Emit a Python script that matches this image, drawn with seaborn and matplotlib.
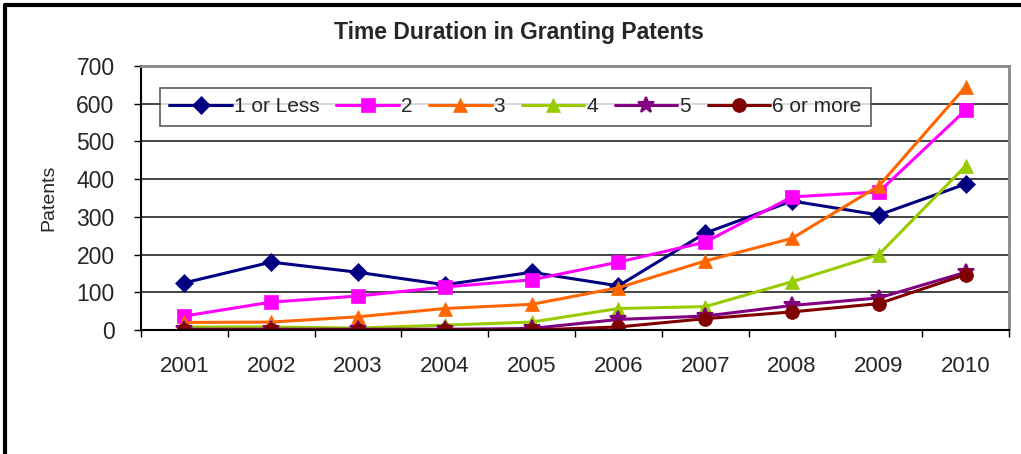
import matplotlib
matplotlib.use('Agg')
import matplotlib.pyplot as plt
import seaborn as sns
import pandas as pd
from matplotlib.ticker import FixedLocator

# data
years = [2001, 2002, 2003, 2004, 2005, 2006, 2007, 2008, 2009, 2010]
one_or_less = [125, 180, 153, 120, 153, 117, 257, 342, 305, 387]
two = [37, 74, 90, 114, 133, 180, 233, 353, 366, 583]
three = [20, 21, 35, 57, 68, 112, 183, 243, 382, 645]
four = [8, 8, 5, 13, 21, 57, 62, 128, 200, 435]
five = [2, 2, 2, 2, 4, 28, 37, 65, 85, 153]
six_or_more = [0, 0, 0, 0, 0, 8, 30, 48, 70, 147]
labels = ['1 or Less', '2', '3', '4', '5', '6 or more']

series = [one_or_less, two, three, four, five, six_or_more]
colors = ['#000080', '#FF00FF', '#FF6600', '#99CC00', '#800080', '#800000']
markers = ['D', 's', '^', '^', '*', 'o']
msizes = [9, 10, 10, 10, 12, 10]

rows = []
for lab, vals in zip(labels, series):
    for i, v in enumerate(vals):
        rows.append({'pos': i + 1, 'year': years[i], 'Patents': v, 'series': lab})
df = pd.DataFrame(rows)

sns.set_style('white')
plt.rcParams['font.family'] = ['Liberation Sans', 'DejaVu Sans']

fig = plt.figure(figsize=(10.21, 4.54), dpi=100)
ax = fig.add_axes([141 / 1021, 1 - 330 / 454, 868 / 1021, 264 / 454])

for lab, col, mk, ms in zip(labels, colors, markers, msizes):
    sub = df[df['series'] == lab]
    sns.lineplot(data=sub, x='pos', y='Patents', ax=ax, color=col, marker=mk,
                 markersize=ms, markeredgecolor=col, linewidth=2.2, label=lab,
                 markeredgewidth=1.5 if mk == '*' else 0.5)

ax.set_xlim(0.5, 10.5)
ax.set_ylim(0, 700)
ax.set_yticks(range(0, 701, 100))
for y in range(100, 700, 100):
    ax.axhline(y, color='#111111', linewidth=1.1, zorder=0)

ax.xaxis.set_major_locator(FixedLocator(list(range(1, 11))))
ax.set_xticklabels([str(y) for y in years])
ax.xaxis.set_minor_locator(FixedLocator([i + 0.5 for i in range(0, 11)]))
ax.tick_params(axis='x', which='major', length=0, pad=19, labelsize=16)
ax.tick_params(axis='x', which='minor', length=5, width=1, color='black', direction='out', bottom=True)
ax.tick_params(axis='y', length=5, width=1, color='black', direction='out', left=True, pad=14, labelsize=16.5)

ax.set_xlabel('')
ax.set_ylabel('Patents', fontsize=14, labelpad=14)

for side in ['top', 'right']:
    ax.spines[side].set_color('#888888')
    ax.spines[side].set_linewidth(2)
ax.spines['left'].set_color('black')
ax.spines['left'].set_linewidth(1.5)
ax.spines['bottom'].set_color('black')
ax.spines['bottom'].set_linewidth(1.5)

leg = ax.legend(loc='upper left', bbox_to_anchor=(0.022, 0.917), ncol=6, fontsize=15,
                frameon=True, fancybox=False, edgecolor='#333333', handlelength=3.0,
                columnspacing=0.8, handletextpad=0.1, borderpad=0.45, borderaxespad=0)
leg.get_frame().set_linewidth(1.2)

fig.text(519 / 1021, 1 - 33 / 454, 'Time Duration in Granting Patents', ha='center', va='center',
         fontsize=16.5, fontweight='bold')

# outer frame (left and top edges visible)
fig.add_artist(plt.Line2D([5 / 1021, 5 / 1021], [0, 1 - 5 / 454], transform=fig.transFigure,
                          color='black', linewidth=3))
fig.add_artist(plt.Line2D([5 / 1021, 1], [1 - 5 / 454, 1 - 5 / 454], transform=fig.transFigure,
                          color='black', linewidth=3))

fig.savefig('out.png', dpi=100)
